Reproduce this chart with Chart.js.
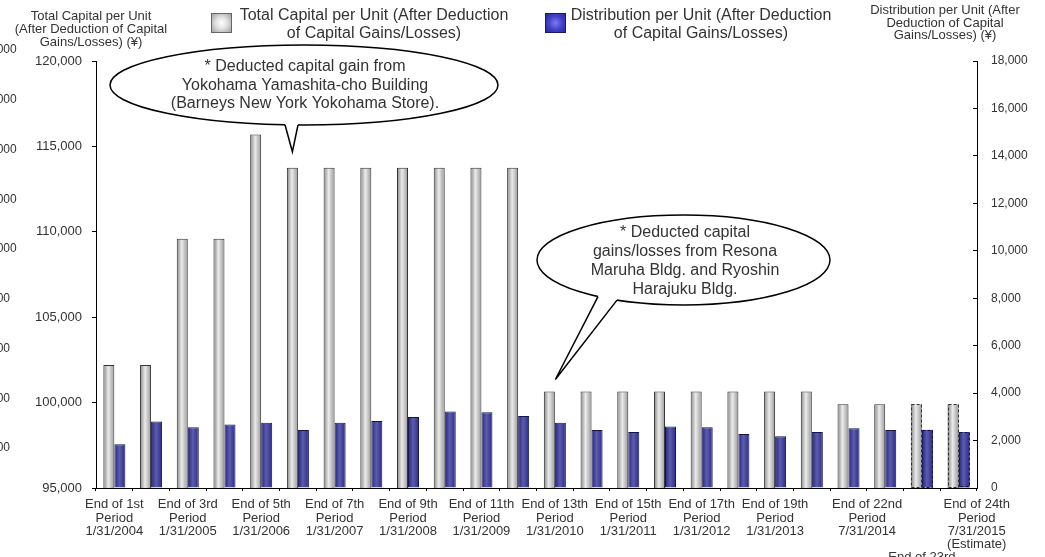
<!DOCTYPE html>
<html>
<head>
<meta charset="utf-8">
<script src="https://cdn.jsdelivr.net/npm/chart.js@4.4.1/dist/chart.umd.min.js"></script>
<style>
  body { margin: 0; width: 1045px; height: 557px; overflow: hidden; position: relative; background: #fff;
         font-family: Arial, "Liberation Sans", sans-serif; color: #333; }
  #chart { position: absolute; left: -20px; top: 0; }
  .txt { position: absolute; text-align: center; white-space: nowrap; }
  .axis-title { font-size: 13px; line-height: 13px; width: 220px; }
  .legend-text { font-size: 16px; line-height: 18px; width: 320px; }
  .legend-box { position: absolute; width: 19px; height: 18px; }
</style>
</head>
<body>
<canvas id="chart" width="1065" height="557"></canvas>

<div class="txt axis-title" style="left:-19px; top:9px;">Total Capital per Unit<br>(After Deduction of Capital<br>Gains/Losses) (¥)</div>
<div class="txt axis-title" style="left:835px; top:4px; line-height:12.5px;">Distribution per Unit (After<br>Deduction of Capital<br>Gains/Losses) (¥)</div>

<div class="legend-box" style="left:211px; top:13px; border:1px solid #666; background:radial-gradient(circle, #fff 0%, #e0e0e0 45%, #a0a0a0 100%);"></div>
<div class="txt legend-text" style="left:214px; top:6px;">Total Capital per Unit (After Deduction<br>of Capital Gains/Losses)</div>
<div class="legend-box" style="left:545px; top:13px; border:1px solid #1a1a60; background:radial-gradient(circle, #7a7af0 0%, #4040c8 55%, #2a2a96 100%);"></div>
<div class="txt legend-text" style="left:541px; top:6px;">Distribution per Unit (After Deduction<br>of Capital Gains/Losses)</div>

<script>
// --- Data ---
const categories = ['1st', '2nd', '3rd', '4th', '5th', '6th', '7th', '8th', '9th', '10th', '11th', '12th',
                    '13th', '14th', '15th', '16th', '17th', '18th', '19th', '20th', '21st', '22nd', '23rd', '24th'];
const capitalPerUnit = [102200, 102200, 109600, 109600, 115700, 113750, 113750, 113750, 113750, 113750, 113750, 113750,
                        100650, 100650, 100650, 100650, 100650, 100650, 100650, 100650, 99900, 99900, 99900, 99900];
const distributionPerUnit = [1840, 2800, 2560, 2680, 2750, 2450, 2750, 2820, 2990, 3230, 3190, 3030,
                             2750, 2450, 2360, 2590, 2560, 2280, 2180, 2360, 2520, 2450, 2450, 2360];
const firstEstimate = 22; // 23rd and 24th period drawn with dashed outlines

const capitalTicks = [95000, 100000, 105000, 110000, 115000, 120000];
const distributionTicks = [0, 2000, 4000, 6000, 8000, 10000, 12000, 14000, 16000, 18000];
const ghostTicks = [2000, 4000, 6000, 8000, 10000, 12000, 14000, 16000, 18000]; // clipped labels at the left edge

// x labels (trailing / leading spaces nudge the 22nd and 24th labels sideways like the original)
const pad = '          ';
const xTickLabels = [
  ['End of 1st', 'Period', '1/31/2004'], null,
  ['End of 3rd', 'Period', '1/31/2005'], null,
  ['End of 5th', 'Period', '1/31/2006'], null,
  ['End of 7th', 'Period', '1/31/2007'], null,
  ['End of 9th', 'Period', '1/31/2008'], null,
  ['End of 11th', 'Period', '1/31/2009'], null,
  ['End of 13th', 'Period', '1/31/2010'], null,
  ['End of 15th', 'Period', '1/31/2011'], null,
  ['End of 17th', 'Period', '1/31/2012'], null,
  ['End of 19th', 'Period', '1/31/2013'], null, null,
  ['End of 22nd' + pad, 'Period' + pad, '7/31/2014' + pad],
  ['', '', '', '', 'End of 23rd', 'Period', '1/31/2015'],
  [pad + 'End of 24th', pad + 'Period', pad + '7/31/2015', pad + '(Estimate)']
];

// callout bubbles (page coordinates), tail tip anchored to a capital bar
const OFFSET_X = 20;
const callouts = [
  { lines: ['* Deducted capital gain from', 'Yokohama Yamashita-cho Building', '(Barneys New York Yokohama Store).'],
    cx: 304, cy: 85, rx: 194, ry: 40, base: [285, 298], bar: 5, tipDx: 0, tipDy: -16, textX: 305, textY: 67, gap: 18.5 },
  { lines: ['* Deducted capital', 'gains/losses from Resona', 'Maruha Bldg. and Ryoshin', 'Harajuku Bldg.'],
    cx: 683.5, cy: 260, rx: 146.5, ry: 45, base: [598, 617], bar: 12, tipDx: 6, tipDy: -12, textX: 685, textY: 233, gap: 19 }
];

Chart.defaults.font.family = 'Arial, "Liberation Sans", sans-serif';
Chart.defaults.color = '#333';

function barFill(stops, side) {
  return (c) => {
    const chart = c.chart, area = chart.chartArea;
    if (!area || c.dataIndex === undefined) return stops[1];
    const w = (area.right - area.left) / categories.length * 0.3;
    const cx = chart.scales.x.getPixelForValue(c.dataIndex);
    const x0 = side === 'left' ? cx - w : cx;
    const g = chart.ctx.createLinearGradient(x0, 0, x0 + w, 0);
    g.addColorStop(0, stops[0]);
    g.addColorStop(0.45, stops[1]);
    g.addColorStop(1, stops[2]);
    return g;
  };
}

const estimateOutline = {
  id: 'estimateOutline',
  afterDatasetsDraw(chart) {
    const ctx = chart.ctx;
    const bottom = chart.chartArea.bottom;
    chart.data.datasets.forEach((ds, di) => {
      chart.getDatasetMeta(di).data.forEach((bar, i) => {
        if (i < firstEstimate) return;
        const { x, y, base, width } = bar.getProps(['x', 'y', 'base', 'width'], true);
        const b = Math.min(base, bottom);
        ctx.save();
        ctx.setLineDash([3, 2]);
        ctx.strokeStyle = ds.dashColor;
        ctx.lineWidth = 1;
        ctx.strokeRect(Math.round(x - width / 2) + 0.5, Math.round(y) + 0.5, Math.round(width) - 1, Math.round(b - y) - 1);
        ctx.restore();
      });
    });
  }
};

const calloutPlugin = {
  id: 'callouts',
  afterDraw(chart) {
    const ctx = chart.ctx;
    const bars = chart.getDatasetMeta(0).data;
    callouts.forEach(co => {
      const bar = bars[co.bar];
      const tipX = bar.x + co.tipDx, tipY = bar.y + co.tipDy;
      const cx = co.cx + OFFSET_X, cy = co.cy;
      const edge = x => { const t = (x - cx) / co.rx; return cy + co.ry * Math.sqrt(1 - t * t); };
      const b1 = co.base[0] + OFFSET_X, b2 = co.base[1] + OFFSET_X;
      ctx.save();
      ctx.lineWidth = 1.5;
      ctx.strokeStyle = '#000';
      ctx.fillStyle = '#fff';
      ctx.beginPath();
      ctx.ellipse(cx, cy, co.rx, co.ry, 0, 0, Math.PI * 2);
      ctx.fill();
      ctx.stroke();
      ctx.beginPath();
      ctx.moveTo(b1, edge(b1) - 3);
      ctx.lineTo(b1, edge(b1));
      ctx.lineTo(tipX, tipY);
      ctx.lineTo(b2, edge(b2));
      ctx.lineTo(b2, edge(b2) - 3);
      ctx.closePath();
      ctx.fill();
      ctx.beginPath();
      ctx.moveTo(b1, edge(b1));
      ctx.lineTo(tipX, tipY);
      ctx.lineTo(b2, edge(b2));
      ctx.stroke();
      ctx.fillStyle = '#333';
      ctx.font = '16px Arial, "Liberation Sans", sans-serif';
      ctx.textAlign = 'center';
      ctx.textBaseline = 'middle';
      co.lines.forEach((l, i) => ctx.fillText(l, co.textX + OFFSET_X, co.textY + i * co.gap));
      ctx.restore();
    });
  }
};

const fmt = v => v.toLocaleString('en-US');
const setTicks = list => s => { s.ticks = list.map(v => ({ value: v })); };

new Chart(document.getElementById('chart'), {
  type: 'bar',
  data: {
    labels: categories,
    datasets: [
      {
        label: 'Total Capital per Unit (After Deduction of Capital Gains/Losses)',
        data: capitalPerUnit,
        yAxisID: 'y',
        backgroundColor: barFill(['#858585', '#ebebeb', '#989898'], 'left'),
        borderColor: '#333',
        borderWidth: c => c.dataIndex >= firstEstimate ? 0 : 1,
        dashColor: '#333'
      },
      {
        label: 'Distribution per Unit (After Deduction of Capital Gains/Losses)',
        data: distributionPerUnit,
        yAxisID: 'y2',
        backgroundColor: barFill(['#22227a', '#5c5cae', '#2a2a88'], 'right'),
        borderColor: '#14144a',
        borderWidth: c => c.dataIndex >= firstEstimate ? 0 : 1,
        dashColor: '#14144a'
      }
    ]
  },
  options: {
    responsive: false,
    animation: false,
    layout: { padding: { top: 61, left: 0, right: 0, bottom: 0 } },
    datasets: { bar: { categoryPercentage: 0.6, barPercentage: 1.0 } },
    plugins: { legend: { display: false }, tooltip: { enabled: false } },
    scales: {
      x: {
        grid: { offset: true, drawOnChartArea: false, tickLength: 3, color: '#000' },
        border: { color: '#000', width: 1 },
        ticks: {
          autoSkip: false, maxRotation: 0, minRotation: 0, padding: 7, color: '#333',
          font: { size: 13, lineHeight: 1.023 },
          callback: (v, i) => xTickLabels[i] || ''
        },
        afterFit: s => { s.height = 69; }
      },
      y: {
        position: 'left', weight: 0,
        min: capitalTicks[0], max: capitalTicks[capitalTicks.length - 1],
        grid: { drawOnChartArea: false, tickLength: 4, color: '#000' },
        border: { color: '#000', width: 1 },
        ticks: { autoSkip: false, padding: 10, color: '#333', font: { size: 13 }, callback: fmt },
        afterBuildTicks: setTicks(capitalTicks),
        afterFit: s => { s.width = 76; }
      },
      yg: {
        position: 'left', weight: 1,
        min: 392, max: 17558,
        grid: { display: false },
        border: { display: false },
        ticks: { autoSkip: false, crossAlign: 'far', padding: 0, color: '#333', font: { size: 12 }, callback: fmt },
        afterBuildTicks: setTicks(ghostTicks),
        afterFit: s => { s.width = 40; }
      },
      y2: {
        position: 'right',
        min: distributionTicks[0], max: distributionTicks[distributionTicks.length - 1],
        grid: { drawOnChartArea: false, tickLength: -4, color: '#000' },
        border: { color: '#000', width: 1 },
        ticks: { autoSkip: false, padding: 18, color: '#333', font: { size: 12 }, callback: fmt },
        afterBuildTicks: setTicks(distributionTicks),
        afterFit: s => { s.width = 68; }
      }
    }
  },
  plugins: [estimateOutline, calloutPlugin]
});
</script>
</body>
</html>
